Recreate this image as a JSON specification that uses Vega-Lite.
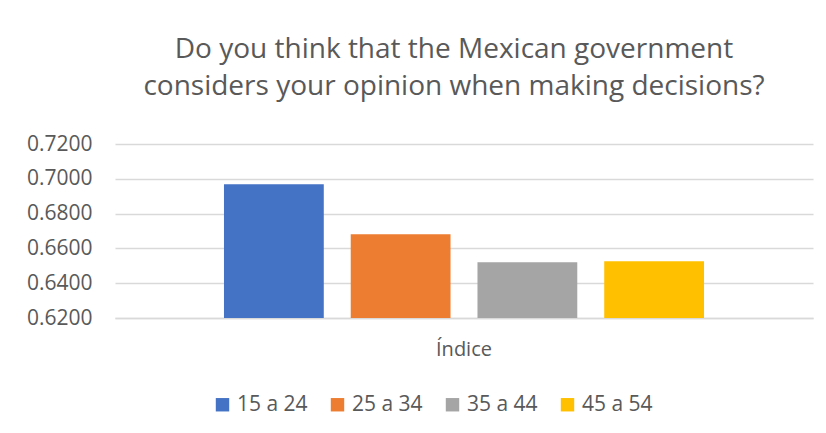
{
  "$schema": "https://vega.github.io/schema/vega-lite/v6.json",
  "width": 698,
  "height": 174,
  "autosize": {"type": "none"},
  "padding": {"left": 115, "top": 144, "right": 13, "bottom": 115},
  "background": "white",
  "title": {
    "text": ["Do you think that the Mexican government", "considers your opinion when making decisions?"],
    "font": "Open Sans",
    "fontSize": 28,
    "fontWeight": "normal",
    "color": "#595959",
    "lineHeight": 37,
    "offset": 32,
    "dx": -10,
    "anchor": "middle"
  },
  "config": {
    "view": {"stroke": null},
    "axis": {"labelFont": "Open Sans", "labelColor": "#595959", "labelFontSize": 21, "titleFont": "Open Sans"},
    "legend": {"labelFont": "Open Sans"}
  },
  "data": {
    "values": [
      {"categoria": "Índice", "grupo": "15 a 24", "valor": 0.6968},
      {"categoria": "Índice", "grupo": "25 a 34", "valor": 0.6681},
      {"categoria": "Índice", "grupo": "35 a 44", "valor": 0.652},
      {"categoria": "Índice", "grupo": "45 a 54", "valor": 0.6526}
    ]
  },
  "mark": {"type": "bar"},
  "encoding": {
    "x": {
      "field": "categoria",
      "type": "nominal",
      "scale": {"paddingInner": 0, "paddingOuter": 0.227},
      "axis": {
        "title": null,
        "labelAngle": 0,
        "ticks": false,
        "domain": true,
        "domainColor": "#D9D9D9",
        "domainWidth": 1.5,
        "labelPadding": 21,
        "labelFontSize": 20,
        "grid": false
      }
    },
    "xOffset": {
      "field": "grupo",
      "type": "nominal",
      "scale": {"paddingInner": 0.2126, "paddingOuter": 0}
    },
    "y": {
      "field": "valor",
      "type": "quantitative",
      "scale": {"domain": [0.62, 0.72], "zero": false, "nice": false},
      "axis": {
        "title": null,
        "values": [0.62, 0.64, 0.66, 0.68, 0.7, 0.72],
        "format": ".4f",
        "ticks": false,
        "domain": false,
        "grid": true,
        "gridColor": "#D9D9D9",
        "gridWidth": 1.5,
        "labelPadding": 23
      }
    },
    "y2": {"datum": 0.62},
    "color": {
      "field": "grupo",
      "type": "nominal",
      "scale": {
        "domain": ["15 a 24", "25 a 34", "35 a 44", "45 a 54"],
        "range": ["#4472C4", "#ED7D31", "#A5A5A5", "#FFC000"]
      },
      "legend": {
        "title": null,
        "orient": "none",
        "legendX": 97,
        "legendY": 250,
        "direction": "horizontal",
        "columns": 4,
        "symbolType": "square",
        "symbolSize": 180,
        "symbolStrokeWidth": 0,
        "symbolOpacity": 1,
        "labelFontSize": 21,
        "labelColor": "#595959",
        "labelOffset": 4,
        "columnPadding": 19
      }
    }
  }
}
